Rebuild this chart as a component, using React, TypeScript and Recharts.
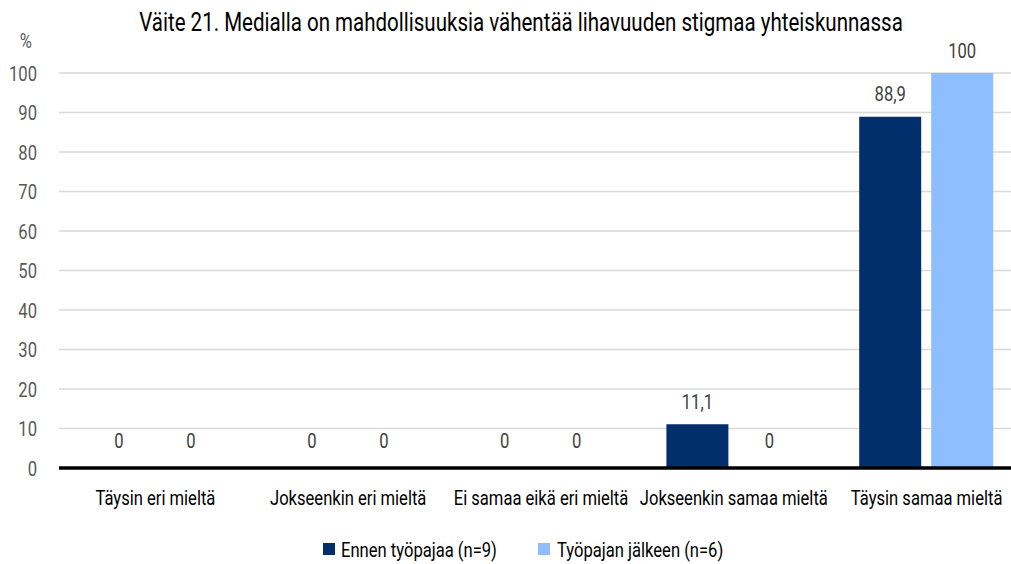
import React from "react";
import { BarChart, Bar, XAxis, YAxis, CartesianGrid, LabelList, ReferenceLine } from "recharts";

const categories = [
  "Täysin eri mieltä",
  "Jokseenkin eri mieltä",
  "Ei samaa eikä eri mieltä",
  "Jokseenkin samaa mieltä",
  "Täysin samaa mieltä",
];
const beforeValues = [0, 0, 0, 11.1, 88.9];
const afterValues = [0, 0, 0, 0, 100];
const yTicks = [0, 10, 20, 30, 40, 50, 60, 70, 80, 90, 100];
const seriesNames = ["Ennen työpajaa (n=9)", "Työpajan jälkeen (n=6)"];
const title = "Väite 21. Medialla on mahdollisuuksia vähentää lihavuuden stigmaa yhteiskunnassa";

const data = categories.map((c, i) => ({ name: c, before: beforeValues[i], after: afterValues[i] }));

const FONT = "Roboto, 'DejaVu Sans Condensed', sans-serif";
const DARK = "#002F6B";
const LIGHT = "#8FBEFF";
const SX = 0.79;

const fmt = (v: any) => String(v).replace(".", ",");

const YTick = (props: any) => {
  const { x, y, payload } = props;
  return (
    <text transform={`translate(${x},${y}) scale(${SX},1)`} textAnchor="end" dy="0.36em" fill="#595959" fontSize={21} fontFamily={FONT}>
      {payload.value}
    </text>
  );
};

const XTick = (props: any) => {
  const { x, y, payload } = props;
  return (
    <text transform={`translate(${x},${y}) scale(${SX},1)`} textAnchor="middle" dy="0.36em" fill="#000" fontSize={21} fontFamily={FONT}>
      {payload.value}
    </text>
  );
};

const ValueLabel = (props: any) => {
  const { x, y, width, height, value } = props;
  const top = Math.min(y, y + height);
  const cx = x + width / 2;
  const cy = top - (value === 0 ? 27 : 23);
  return (
    <text transform={`translate(${cx},${cy}) scale(${SX},1)`} textAnchor="middle" dy="0.36em" fill="#404040" fontSize={21} fontFamily={FONT}>
      {fmt(value)}
    </text>
  );
};

export default function App() {
  return (
    <div style={{ position: "fixed", left: 0, top: 0, width: 1011, height: 564, overflow: "hidden", background: "#fff", fontFamily: FONT }}>
      <BarChart
        width={1030}
        height={564}
        data={data}
        margin={{ top: 73, right: 7, bottom: 66, left: 0 }}
        barSize={62}
        barGap={10}
      >
        <CartesianGrid vertical={false} stroke="#d9d9d9" strokeWidth={1.5} />
        <XAxis
          dataKey="name"
          height={30}
          axisLine={false}
          tickLine={false}
          tickSize={0}
          tickMargin={29}
          interval={0}
          tick={<XTick />}
        />
        <YAxis
          width={59}
          domain={[0, 100]}
          ticks={yTicks}
          axisLine={false}
          tickLine={false}
          tickSize={0}
          tickMargin={22}
          tick={<YTick />}
        />
        <Bar dataKey="before" fill={DARK} isAnimationActive={false} minPointSize={1}>
          <LabelList dataKey="before" content={<ValueLabel />} />
        </Bar>
        <Bar dataKey="after" fill={LIGHT} isAnimationActive={false} minPointSize={1}>
          <LabelList dataKey="after" content={<ValueLabel />} />
        </Bar>
        <ReferenceLine y={0} stroke="#000" strokeWidth={3.5} />
      </BarChart>
      <svg width={1011} height={564} style={{ position: "absolute", left: 0, top: 0, pointerEvents: "none" }}>
        <text transform={`translate(521,22) scale(0.79,1)`} dy="0.36em" textAnchor="middle" fontSize={26} fontFamily={FONT} fill="#000">
          {title}
        </text>
        <text transform={`translate(32,40) scale(${SX},1)`} textAnchor="end" dy="0.36em" fontSize={21} fontFamily={FONT} fill="#595959">%</text>
        <rect x={323} y={543} width={12} height={12} fill={DARK} />
        <text transform={`translate(341,549) scale(${SX},1)`} dy="0.36em" fontSize={21} fontFamily={FONT} fill="#000">
          {seriesNames[0]}
        </text>
        <rect x={538} y={543} width={12} height={12} fill={LIGHT} />
        <text transform={`translate(557,549) scale(${SX},1)`} dy="0.36em" fontSize={21} fontFamily={FONT} fill="#000">
          {seriesNames[1]}
        </text>
      </svg>
    </div>
  );
}
